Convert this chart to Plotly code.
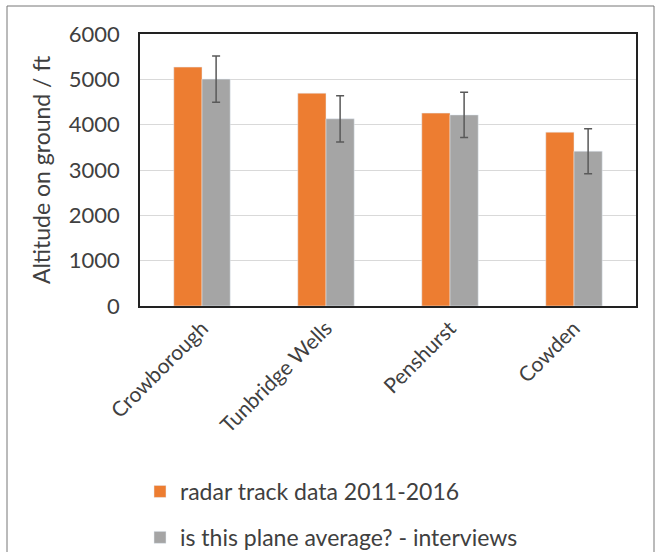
import plotly.graph_objects as go

towns = ['Crowborough', 'Tunbridge Wells', 'Penshurst', 'Cowden']
radar = [5270, 4695, 4255, 3835]
interviews = [5005, 4130, 4215, 3415]
interview_err = [510, 510, 500, 495]

font = 'Lato, "Open Sans", sans-serif'
txt = '#404040'

fig = go.Figure()
fig.add_trace(go.Bar(
    x=towns, y=radar, name='radar track data 2011-2016',
    marker_color='#ED7D31', legendgroup='a',
))
fig.add_trace(go.Bar(
    x=towns, y=interviews, name='is this plane average? - interviews',
    marker_color='#A5A5A5', legendgroup='b',
    error_y=dict(type='data', array=interview_err, color='#595959',
                 thickness=1.5, width=4),
))

# plot area box in pixels
L, R, T, B = 140, 636, 34, 306
W, H = 655, 552
pw, ph = R - L, B - T

fig.update_layout(
    width=W, height=H,
    margin=dict(l=L, r=W - R, t=T, b=H - B, pad=0, autoexpand=False),
    paper_bgcolor='white', plot_bgcolor='white',
    font=dict(family=font, size=22, color=txt),
    barmode='group', bargap=0.545, bargroupgap=0,
    showlegend=True,
    legend=dict(
        x=0, xanchor='left', yref='container', y=(H - 470) / H, yanchor='top',
        orientation='v', traceorder='grouped', tracegroupgap=13,
        font=dict(size=23, color=txt), bgcolor='rgba(0,0,0,0)',
    ),
    shapes=[dict(
        type='rect', xref='paper', yref='paper',
        x0=(7 - L) / pw, x1=(654 - L) / pw,
        y0=(B - 580) / ph, y1=(B - 6) / ph,
        line=dict(color='#777777', width=1),
    )],
)
fig.update_xaxes(
    tickangle=-45, showline=True, linecolor='#222222', linewidth=1.5,
    mirror=True, ticks='', tickfont=dict(size=21, color=txt),
)
fig.update_yaxes(
    range=[0, 6000], dtick=1000, showgrid=True, gridcolor='#D9D9D9',
    showline=True, linecolor='#222222', linewidth=1.5, mirror=True,
    zeroline=False, tickfont=dict(size=22, color=txt), ticks='',
    ticklabelstandoff=14,
    title=dict(text='Altitude on ground / ft', font=dict(size=23, color=txt),
               standoff=12),
)

fig.write_html('out.html', config={'displayModeBar': False},
               post_script="document.body.style.margin='0';")
